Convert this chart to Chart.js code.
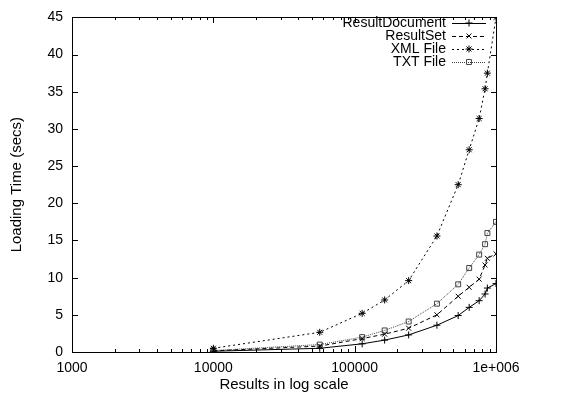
<!DOCTYPE html>
<html>
<head>
<meta charset="utf-8">
<script src="https://cdn.jsdelivr.net/npm/chart.js@4.4.1/dist/chart.umd.min.js"></script>
<style>
  html, body { margin: 0; padding: 0; background: #fff; }
  #chart { display: block; }
</style>
</head>
<body>
<canvas id="chart" width="579" height="401"></canvas>
<script>
// number of results per run (log axis)
const resultCounts = [10000, 56600, 113000, 163000, 241000, 382000, 540000, 646000, 760000, 837000, 869000, 1000000];

// loading time in seconds
const resultDocument = [0.1, 0.5, 1.1, 1.6, 2.3, 3.6, 4.9, 6.0, 6.9, 7.8, 8.6, 9.2];
const resultSet = [0.15, 0.8, 1.8, 2.4, 3.2, 5.0, 7.5, 8.7, 9.8, 11.7, 12.6, 13.2];
const xmlFile = [0.5, 2.65, 5.2, 7.0, 9.6, 15.6, 22.5, 27.2, 31.4, 35.4, 37.5, 45];
const txtFile = [0.2, 1.0, 2.0, 2.9, 4.1, 6.5, 9.1, 11.3, 13.1, 14.5, 16.0, 17.5];

const seriesNames = ['ResultDocument', 'ResultSet', 'XML File', 'TXT File'];

const xTickValues = [1000, 10000, 100000, 1000000];
const xTickLabels = ['1000', '10000', '100000', '1e+006'];
const yTicks = [0, 5, 10, 15, 20, 25, 30, 35, 40, 45];

const FONT = 'Liberation Sans, Arial, sans-serif';

// minor + major ticks for the log axis
const logTicks = [];
for (let p = 3; p <= 5; p++) {
  for (let m = 1; m <= 9; m++) logTicks.push(m * Math.pow(10, p));
}
logTicks.push(1000000);

function points(ys) {
  return resultCounts.map((x, i) => ({ x: x, y: ys[i] }));
}

function makeSet(label, ys, dash, marker, color) {
  return {
    label: label,
    data: points(ys),
    showLine: true,
    borderColor: color,
    borderWidth: 1,
    borderDash: dash,
    pointStyle: marker,
    pointRadius: 3.5,
    pointBorderColor: color,
    pointBackgroundColor: 'rgba(0,0,0,0)',
    pointBorderWidth: 1,
    tension: 0
  };
}

// box with inward ticks on all four sides, plus the key
const gnuplotFrame = {
  id: 'gnuplotFrame',
  afterDraw(chart) {
    const { ctx, chartArea, scales: { x, y } } = chart;
    const l = Math.round(chartArea.left), r = Math.round(chartArea.right);
    const t = Math.round(chartArea.top), b = Math.round(chartArea.bottom);
    ctx.save();
    ctx.fillStyle = '#000';
    ctx.fillRect(l, t, r - l + 1, 1);
    ctx.fillRect(l, b, r - l + 1, 1);
    ctx.fillRect(l, t, 1, b - t + 1);
    ctx.fillRect(r, t, 1, b - t + 1);
    logTicks.forEach(v => {
      const px = Math.round(x.getPixelForValue(v));
      const len = xTickValues.includes(v) ? 6 : 3;
      ctx.fillRect(px, b - len, 1, len);
      ctx.fillRect(px, t, 1, len);
    });
    yTicks.forEach(v => {
      const py = Math.round(y.getPixelForValue(v));
      ctx.fillRect(l, py, 6, 1);
      ctx.fillRect(r - 5, py, 6, 1);
    });

    // key, top right
    ctx.font = '14px ' + FONT;
    ctx.textAlign = 'right';
    ctx.textBaseline = 'middle';
    chart.data.datasets.forEach((ds, i) => {
      const rowY = t + 6 + i * 13;
      ctx.fillStyle = '#000';
      ctx.fillText(ds.label, r - 50, rowY);
      ctx.strokeStyle = ds.borderColor;
      ctx.lineWidth = 1;
      ctx.setLineDash(ds.borderDash);
      ctx.beginPath();
      ctx.moveTo(r - 44, rowY + 0.5);
      ctx.lineTo(r - 10, rowY + 0.5);
      ctx.stroke();
      ctx.setLineDash([]);
      ctx.fillStyle = 'rgba(0,0,0,0)';
      Chart.helpers.drawPoint(ctx, {
        pointStyle: ds.pointStyle,
        radius: 3.5,
        borderWidth: 1
      }, r - 27, rowY);
    });
    ctx.restore();
  }
};

new Chart(document.getElementById('chart'), {
  type: 'scatter',
  data: {
    datasets: [
      makeSet(seriesNames[0], resultDocument, [], 'cross', '#000'),
      makeSet(seriesNames[1], resultSet, [4, 3], 'crossRot', '#000'),
      makeSet(seriesNames[2], xmlFile, [2, 3], 'star', '#000'),
      makeSet(seriesNames[3], txtFile, [1, 1], 'rect', '#444')
    ]
  },
  options: {
    responsive: false,
    animation: false,
    layout: { padding: { top: 1, right: 83, left: 0, bottom: 0 } },
    plugins: {
      legend: { display: false },
      tooltip: { enabled: false }
    },
    scales: {
      x: {
        type: 'logarithmic',
        min: 1000,
        max: 1000000,
        afterBuildTicks: scale => {
          scale.ticks = logTicks.map(v => ({ value: v }));
        },
        afterFit: scale => { scale.height = 49; },
        grid: { display: false, drawTicks: false },
        border: { display: false },
        ticks: {
          autoSkip: false,
          maxRotation: 0,
          padding: 8,
          color: '#000',
          font: { family: FONT, size: 14 },
          callback: value => {
            const k = xTickValues.indexOf(value);
            return k >= 0 ? xTickLabels[k] : '';
          }
        },
        title: {
          display: true,
          text: 'Results in log scale',
          color: '#000',
          padding: { top: 0, bottom: 7 },
          font: { family: FONT, size: 15 }
        }
      },
      y: {
        min: 0,
        max: 45,
        afterBuildTicks: scale => {
          scale.ticks = yTicks.map(v => ({ value: v }));
        },
        afterFit: scale => { scale.width = 72; },
        grid: { display: false, drawTicks: false },
        border: { display: false },
        ticks: {
          padding: 9,
          color: '#000',
          font: { family: FONT, size: 14 }
        },
        title: {
          display: true,
          text: 'Loading Time (secs)',
          color: '#000',
          padding: { top: 8, bottom: 0 },
          font: { family: FONT, size: 15 }
        }
      }
    }
  },
  plugins: [gnuplotFrame]
});
</script>
</body>
</html>
